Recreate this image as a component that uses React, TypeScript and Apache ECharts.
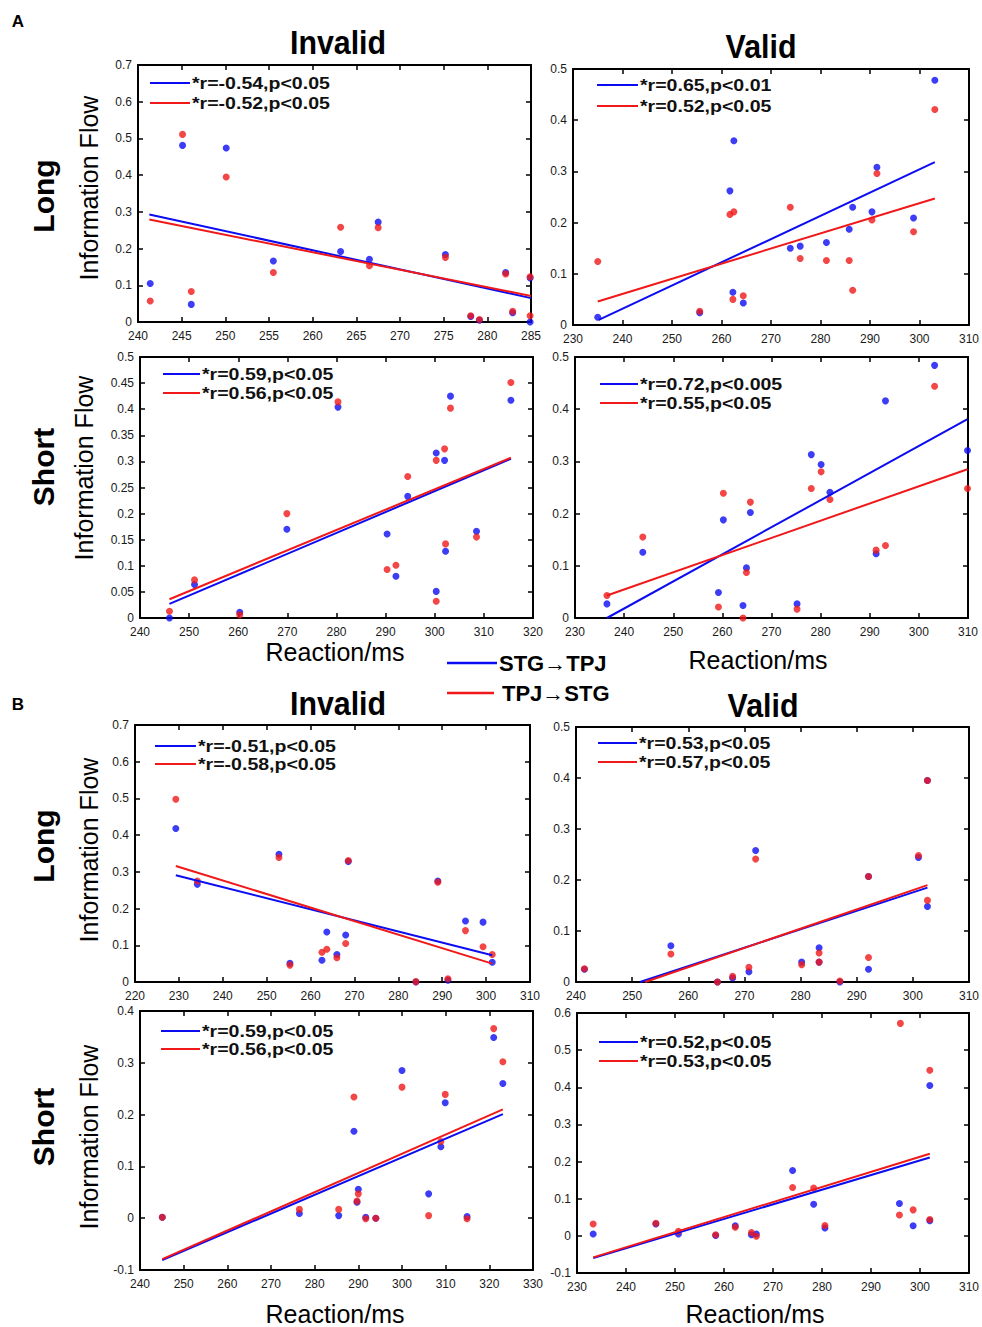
import React, { useEffect, useRef } from "react";
import * as echarts from "echarts";

// ---------- data ----------
const xMins = [240, 230, 240, 230, 220, 240, 240, 230];
const xMaxs = [285, 310, 320, 310, 310, 310, 330, 310];
const xIntervals = [5, 10, 10, 10, 10, 10, 10, 10];
const yMins = [0, 0, 0, 0, 0, 0, -0.1, -0.1];
const yMaxs = [0.7, 0.5, 0.5, 0.5, 0.7, 0.5, 0.4, 0.6];
const yIntervals = [0.1, 0.1, 0.05, 0.1, 0.1, 0.1, 0.1, 0.1];

const a1Blue = [[241.4,0.105],[245.1,0.481],[246.1,0.048],[250.1,0.474],[255.5,0.166],[263.2,0.192],[266.5,0.171],[267.5,0.272],[275.2,0.184],[278.1,0.015],[279.1,0.005],[282.1,0.135],[282.9,0.025],[284.9,0.0],[284.9,0.12]];
const a1Red = [[241.4,0.057],[245.1,0.511],[246.1,0.083],[250.1,0.395],[255.5,0.135],[263.2,0.258],[266.5,0.153],[267.5,0.257],[275.2,0.176],[278.1,0.017],[279.1,0.007],[282.1,0.131],[282.9,0.029],[284.9,0.017],[284.9,0.123]];
const a1BlueFit = [[241.3,0.293],[285,0.065]];
const a1RedFit = [[241.3,0.279],[285,0.071]];

const a2Blue = [[235.0,0.015],[255.6,0.024],[261.7,0.262],[262.5,0.36],[262.3,0.064],[264.4,0.043],[273.9,0.15],[275.9,0.154],[281.2,0.161],[285.8,0.187],[286.5,0.23],[290.4,0.221],[291.4,0.308],[298.8,0.209],[303.1,0.478]];
const a2Red = [[235.0,0.124],[255.6,0.027],[261.7,0.216],[262.5,0.221],[262.3,0.05],[264.4,0.057],[273.9,0.23],[275.9,0.13],[281.2,0.126],[285.8,0.126],[286.5,0.068],[290.4,0.205],[291.4,0.296],[298.8,0.182],[303.1,0.421]];
const a2BlueFit = [[235.2,0.01],[303.1,0.318]];
const a2RedFit = [[235.0,0.046],[303.1,0.247]];

const a3Blue = [[246.0,0.0],[251.1,0.064],[260.3,0.011],[269.9,0.17],[280.3,0.404],[290.3,0.161],[292.1,0.08],[294.5,0.233],[300.3,0.316],[300.3,0.051],[302.0,0.302],[302.2,0.128],[303.2,0.425],[308.5,0.166],[315.5,0.417]];
const a3Red = [[246.0,0.013],[251.1,0.073],[260.3,0.006],[269.9,0.2],[280.3,0.414],[290.3,0.093],[292.1,0.101],[294.5,0.271],[300.3,0.302],[300.3,0.032],[302.0,0.324],[302.2,0.142],[303.2,0.402],[308.5,0.155],[315.5,0.451]];
const a3BlueFit = [[246.0,0.027],[315.5,0.305]];
const a3RedFit = [[246.0,0.036],[315.5,0.307]];

const a4Blue = [[236.5,0.027],[243.8,0.126],[259.2,0.049],[260.2,0.188],[264.2,0.024],[264.9,0.096],[265.7,0.202],[275.2,0.027],[278.1,0.313],[280.1,0.294],[281.9,0.241],[291.3,0.123],[293.2,0.416],[303.2,0.484],[309.9,0.321]];
const a4Red = [[236.5,0.043],[243.8,0.155],[259.2,0.021],[260.2,0.239],[264.2,0.0],[264.9,0.087],[265.7,0.222],[275.2,0.017],[278.1,0.248],[280.1,0.28],[281.9,0.227],[291.3,0.13],[293.2,0.139],[303.2,0.444],[309.9,0.248]];
const a4BlueFit = [[236.5,0.0],[309.9,0.381]];
const a4RedFit = [[236.5,0.043],[309.9,0.285]];

const b1Blue = [[229.3,0.418],[234.2,0.266],[252.8,0.348],[255.3,0.051],[262.6,0.059],[263.7,0.136],[266.0,0.075],[268.0,0.128],[268.6,0.328],[284.0,0.0],[289.0,0.275],[291.3,0.005],[295.3,0.166],[299.3,0.163],[301.4,0.054]];
const b1Red = [[229.3,0.498],[234.2,0.275],[252.8,0.339],[255.3,0.046],[262.6,0.081],[263.7,0.089],[266.0,0.066],[268.0,0.105],[268.6,0.331],[284.0,0.001],[289.0,0.272],[291.3,0.009],[295.3,0.14],[299.3,0.096],[301.4,0.075]];
const b1BlueFit = [[229.3,0.291],[301.4,0.073]];
const b1RedFit = [[229.3,0.316],[301.4,0.05]];

const b2Blue = [[241.5,0.025],[256.9,0.071],[265.2,0.0],[267.9,0.008],[270.8,0.02],[272.0,0.258],[280.2,0.039],[283.3,0.067],[283.3,0.039],[287.0,0.0],[292.1,0.025],[292.1,0.207],[301.0,0.244],[302.6,0.148],[302.6,0.395]];
const b2Red = [[241.5,0.026],[256.9,0.055],[265.2,0.0],[267.9,0.011],[270.8,0.029],[272.0,0.241],[280.2,0.034],[283.3,0.057],[283.3,0.039],[287.0,0.002],[292.1,0.048],[292.1,0.207],[301.0,0.248],[302.6,0.16],[302.6,0.395]];
const b2BlueFit = [[251.4,0.0],[302.6,0.185]];
const b2RedFit = [[252.3,0.0],[302.6,0.19]];

const b3Blue = [[245.1,0.002],[276.5,0.009],[285.5,0.005],[289.0,0.168],[290.0,0.056],[289.7,0.031],[291.7,0.002],[294.0,0.0],[300.0,0.285],[306.1,0.047],[308.9,0.138],[309.9,0.223],[314.9,0.003],[321.0,0.349],[323.1,0.26]];
const b3Red = [[245.1,0.002],[276.5,0.017],[285.5,0.017],[289.0,0.234],[290.0,0.047],[289.7,0.033],[291.7,-0.001],[294.0,0.0],[300.0,0.253],[306.1,0.005],[308.9,0.148],[309.9,0.239],[314.9,-0.001],[321.0,0.366],[323.1,0.302]];
const b3BlueFit = [[245.1,-0.081],[323.1,0.201]];
const b3RedFit = [[245.1,-0.079],[323.1,0.21]];

const b4Blue = [[233.3,0.005],[246.1,0.032],[250.7,0.005],[258.3,0.001],[262.3,0.027],[265.6,0.003],[266.6,0.005],[274.0,0.176],[278.3,0.085],[280.6,0.021],[295.8,0.087],[298.6,0.027],[302.0,0.041],[302.0,0.405]];
const b4Red = [[233.3,0.032],[246.1,0.034],[250.7,0.012],[258.3,0.003],[262.3,0.023],[265.6,0.009],[266.6,-0.001],[274.0,0.13],[278.3,0.129],[280.6,0.028],[295.8,0.056],[296.0,0.572],[298.6,0.07],[302.0,0.044],[302.0,0.446]];
const b4BlueFit = [[233.3,-0.06],[302.0,0.211]];
const b4RedFit = [[233.3,-0.058],[302.0,0.221]];

const blueLabels = ["*r=-0.54,p<0.05", "*r=0.65,p<0.01", "*r=0.59,p<0.05", "*r=0.72,p<0.005", "*r=-0.51,p<0.05", "*r=0.53,p<0.05", "*r=0.59,p<0.05", "*r=0.52,p<0.05"];
const redLabels = ["*r=-0.52,p<0.05", "*r=0.52,p<0.05", "*r=0.56,p<0.05", "*r=0.55,p<0.05", "*r=-0.58,p<0.05", "*r=0.57,p<0.05", "*r=0.56,p<0.05", "*r=0.53,p<0.05"];
const legendNames = ["STG→TPJ", "TPJ→STG"];

const bluePts = [a1Blue, a2Blue, a3Blue, a4Blue, b1Blue, b2Blue, b3Blue, b4Blue];
const redPts = [a1Red, a2Red, a3Red, a4Red, b1Red, b2Red, b3Red, b4Red];
const blueFits = [a1BlueFit, a2BlueFit, a3BlueFit, a4BlueFit, b1BlueFit, b2BlueFit, b3BlueFit, b4BlueFit];
const redFits = [a1RedFit, a2RedFit, a3RedFit, a4RedFit, b1RedFit, b2RedFit, b3RedFit, b4RedFit];

// ---------- layout ----------
const grids = [
  { left: 138, top: 65, width: 393, height: 257 },
  { left: 573, top: 69, width: 396, height: 256 },
  { left: 140, top: 357, width: 393, height: 261 },
  { left: 575, top: 357, width: 393, height: 261 },
  { left: 135, top: 725, width: 395, height: 257 },
  { left: 576, top: 727, width: 393, height: 255 },
  { left: 140, top: 1011, width: 393, height: 259 },
  { left: 577, top: 1013, width: 393, height: 260 },
];
// inner legend: [lineX0, lineX1, blueY, redY]
const innerLegends = [
  [150, 190, 83, 103],
  [597, 638, 85, 106],
  [163, 200, 374, 393],
  [600, 638, 384, 403],
  [155, 196, 746, 764],
  [598, 637, 743, 762],
  [161, 200, 1031, 1049],
  [599, 638, 1042, 1061],
];

const BLUE = "#0c0cf2";
const RED = "#f01818";
const FONT = "'Liberation Sans', Arial, sans-serif";

export default function App() {
  const ref = useRef<HTMLDivElement>(null);
  useEffect(() => {
    document.body.style.margin = "0";
    if (!ref.current) return;
    const chart = echarts.init(ref.current, undefined, { renderer: "svg" });

    const xAxis: any[] = [];
    const yAxis: any[] = [];
    const series: any[] = [];
    const graphic: any[] = [];
    const axisLine = { show: true, onZero: false, lineStyle: { color: "#000", width: 2 } };
    const axisTick = { show: true, inside: true, length: 5, lineStyle: { color: "#000", width: 1.5 } };
    const xLabel = { fontSize: 12, color: "#1a1a1a", fontFamily: FONT, margin: 8 };
    const yLabel = { fontSize: 12, color: "#1a1a1a", fontFamily: FONT, margin: 6 };

    grids.forEach((g, i) => {
      const xBase = { type: "value", gridIndex: i, min: xMins[i], max: xMaxs[i], interval: xIntervals[i], axisLine, axisTick, splitLine: { show: false } };
      const yBase = { type: "value", gridIndex: i, min: yMins[i], max: yMaxs[i], interval: yIntervals[i], axisLine, axisTick, splitLine: { show: false } };
      xAxis.push({ ...xBase, position: "bottom", axisLabel: xLabel });
      xAxis.push({ ...xBase, position: "top", axisLabel: { show: false } });
      yAxis.push({ ...yBase, position: "left", axisLabel: yLabel });
      yAxis.push({ ...yBase, position: "right", axisLabel: { show: false } });
      const xi = 2 * i;
      const yi = 2 * i;
      series.push({ type: "scatter", xAxisIndex: xi, yAxisIndex: yi, data: bluePts[i], symbolSize: 7, itemStyle: { color: BLUE }, z: 2 });
      series.push({ type: "scatter", xAxisIndex: xi, yAxisIndex: yi, data: redPts[i], symbolSize: 7, itemStyle: { color: RED }, z: 3 });
      series.push({ type: "line", xAxisIndex: xi, yAxisIndex: yi, data: blueFits[i], symbol: "none", lineStyle: { color: BLUE, width: 2 }, z: 4 });
      series.push({ type: "line", xAxisIndex: xi, yAxisIndex: yi, data: redFits[i], symbol: "none", lineStyle: { color: RED, width: 2 }, z: 5 });

      const [lx0, lx1, by, ry] = innerLegends[i];
      graphic.push({ type: "line", shape: { x1: lx0, y1: by, x2: lx1, y2: by }, style: { stroke: BLUE, lineWidth: 2 } });
      graphic.push({ type: "line", shape: { x1: lx0, y1: ry, x2: lx1, y2: ry }, style: { stroke: RED, lineWidth: 2 } });
      graphic.push({ type: "text", x: lx1 + 2, y: by, scaleX: 1.15, style: { text: blueLabels[i], fontSize: 17, fontWeight: "bold", fontFamily: FONT, fill: "#111", align: "left", verticalAlign: "middle" } });
      graphic.push({ type: "text", x: lx1 + 2, y: ry, scaleX: 1.15, style: { text: redLabels[i], fontSize: 17, fontWeight: "bold", fontFamily: FONT, fill: "#111", align: "left", verticalAlign: "middle" } });
    });

    const txt = (text: string, x: number, y: number, fontSize: number, bold: boolean, opts: any = {}) => ({
      type: "text", x, y, ...opts,
      style: { text, fontSize, fontWeight: bold ? "bold" : "normal", fontFamily: FONT, fill: "#000", align: "center", verticalAlign: "middle" },
    });
    const rot = Math.PI / 2;
    graphic.push(txt("A", 18, 21, 17, true));
    graphic.push(txt("B", 18, 704, 17, true));
    graphic.push(txt("Invalid", 338, 43, 33, true, { scaleX: 0.92 }));
    graphic.push(txt("Valid", 761, 47, 33, true, { scaleX: 0.92 }));
    graphic.push(txt("Invalid", 338, 704, 33, true, { scaleX: 0.92 }));
    graphic.push(txt("Valid", 763, 706, 33, true, { scaleX: 0.92 }));
    graphic.push(txt("Long", 43, 196, 30, true, { rotation: rot }));
    graphic.push(txt("Short", 43, 467, 30, true, { rotation: rot }));
    graphic.push(txt("Long", 43, 846, 30, true, { rotation: rot }));
    graphic.push(txt("Short", 43, 1127, 30, true, { rotation: rot }));
    graphic.push(txt("Information Flow", 89, 188, 25, false, { rotation: rot }));
    graphic.push(txt("Information Flow", 84, 468, 25, false, { rotation: rot }));
    graphic.push(txt("Information Flow", 89, 850, 25, false, { rotation: rot }));
    graphic.push(txt("Information Flow", 89, 1137, 25, false, { rotation: rot }));
    graphic.push(txt("Reaction/ms", 335, 652, 25, false));
    graphic.push(txt("Reaction/ms", 758, 660, 25, false));
    graphic.push(txt("Reaction/ms", 335, 1314, 25, false));
    graphic.push(txt("Reaction/ms", 755, 1314, 25, false));
    graphic.push({ type: "line", shape: { x1: 447, y1: 663, x2: 497, y2: 663 }, style: { stroke: BLUE, lineWidth: 2.5 } });
    graphic.push({ type: "line", shape: { x1: 447, y1: 693, x2: 494, y2: 693 }, style: { stroke: RED, lineWidth: 2.5 } });
    graphic.push({ type: "text", x: 499, y: 663, style: { text: legendNames[0], fontSize: 22, fontWeight: "bold", fontFamily: FONT, fill: "#000", align: "left", verticalAlign: "middle" } });
    graphic.push({ type: "text", x: 502, y: 693, style: { text: legendNames[1], fontSize: 22, fontWeight: "bold", fontFamily: FONT, fill: "#000", align: "left", verticalAlign: "middle" } });

    chart.setOption({
      animation: false,
      backgroundColor: "#fff",
      grid: grids.map((g) => ({ ...g, containLabel: false })),
      xAxis,
      yAxis,
      series,
      graphic,
    });
    return () => chart.dispose();
  }, []);
  return <div ref={ref} style={{ width: 982, height: 1327 }} />;
}
